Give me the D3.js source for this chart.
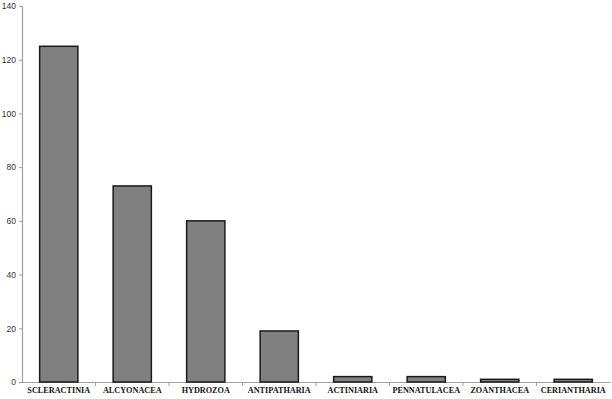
<!DOCTYPE html>
<html>
<head>
<meta charset="utf-8">
<script src="https://cdn.jsdelivr.net/npm/d3@7"></script>
<style>
  body { margin: 0; background: #fff; }
  #svg-container { width: 612px; height: 399px; }
</style>
</head>
<body>
<div id="svg-container"></div>
<script>
// orde namen en aantallen
const categories = ['SCLERACTINIA', 'ALCYONACEA', 'HYDROZOA', 'ANTIPATHARIA', 'ACTINIARIA', 'PENNATULACEA', 'ZOANTHACEA', 'CERIANTHARIA']
const counts = [125, 73, 60, 19, 2, 2, 1, 1]
const yTicks = [0, 20, 40, 60, 80, 100, 120, 140]

const width = 612
const height = 399
const margin = { top: 6, right: 2, bottom: 17, left: 22 }
const innerWidth = width - margin.left - margin.right
const innerHeight = height - margin.top - margin.bottom

const data = categories.map((c, i) => ({ name: c, value: counts[i] }))

const svg = d3.select('#svg-container')
    .append('svg').attr('width', width).attr('height', height)

const g = svg.append('g')
    .attr('transform', `translate(${margin.left}, ${margin.top})`)

const yScale = d3.scaleLinear()
    .domain([0, 140])
    .range([innerHeight, 0])
const xScale = d3.scaleBand()
    .domain(categories)
    .range([0, innerWidth])
    .padding(0)

//y as
const yAxis = g.append('g')
    .call(d3.axisLeft(yScale).tickValues(yTicks).tickSize(3).tickPadding(3))
yAxis.select('.domain').attr('stroke', '#a0a0a0').attr('stroke-width', 1.2)
yAxis.selectAll('.tick line').attr('stroke', '#a0a0a0')
yAxis.selectAll('text')
    .attr('fill', '#333')
    .style('font-family', 'Liberation Sans, Arial, sans-serif')
    .style('font-size', '8.5px')

//x as, streepjes tussen de categorieen
const xAxis = g.append('g')
    .attr('transform', `translate(0, ${innerHeight})`)
    .call(d3.axisBottom(xScale).tickSize(0).tickSizeOuter(0).tickPadding(5))
xAxis.select('.domain').attr('stroke', '#a0a0a0').attr('stroke-width', 1.2)
xAxis.selectAll('text')
    .attr('fill', '#111')
    .style('font-family', 'Liberation Serif, serif')
    .style('font-weight', 'bold')
    .style('font-size', '8.2px')
xAxis.selectAll('.sep').data(categories.slice(1))
    .enter().append('line')
    .attr('x1', d => xScale(d)).attr('x2', d => xScale(d))
    .attr('y1', 0).attr('y2', 4)
    .attr('stroke', '#a0a0a0')

//staven
const barW = xScale.bandwidth() * 0.52
g.selectAll('rect.bar').data(data)
    .enter().append('rect')
    .attr('class', 'bar')
    .attr('x', d => xScale(d.name) + (xScale.bandwidth() - barW) / 2)
    .attr('y', d => yScale(d.value))
    .attr('width', barW)
    .attr('height', d => innerHeight - yScale(d.value))
    .attr('fill', '#808080')
    .attr('stroke', '#1a1a1a')
    .attr('stroke-width', 1.5)
</script>
</body>
</html>
